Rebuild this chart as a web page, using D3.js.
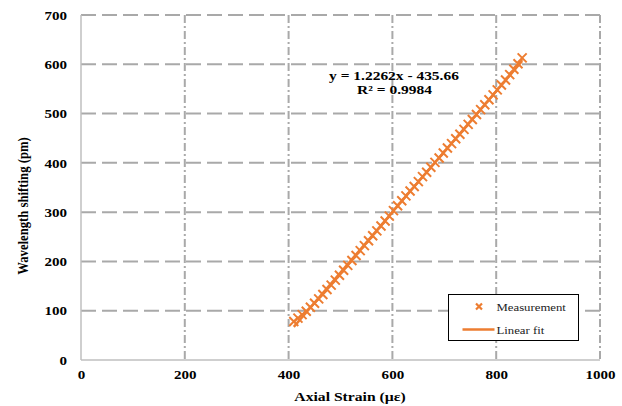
<!DOCTYPE html>
<html>
<head>
<meta charset="utf-8">
<script src="https://cdn.jsdelivr.net/npm/d3@7"></script>
<style>
  body { margin: 0; background: #fff; }
  svg text { font-family: "Liberation Serif", "Times New Roman", Times, serif; }
</style>
</head>
<body>
<div id="chart"></div>
<script>
// ---- data ----
const strain = [410, 418, 426, 434, 442, 450, 458, 466, 474, 482, 490, 498, 506, 514,
  522, 530, 538, 546, 554, 562, 570, 578, 586, 594, 602, 610, 618, 626, 634, 642,
  650, 658, 666, 674, 682, 690, 698, 706, 714, 722, 730, 738, 746, 754, 762, 770,
  778, 786, 794, 802, 810, 818, 826, 834, 842, 850]
const shift = [78, 85, 92, 99, 107, 115, 124, 133, 143, 152, 162, 172, 182, 192,
  202, 212, 222, 232, 242, 252, 262, 272, 282, 292, 303, 313, 323, 333, 343, 352,
  362, 372, 381, 391, 401, 410, 420, 430, 439, 449, 458, 468, 478, 488, 498, 508,
  518, 528, 538, 548, 558, 568, 579, 590, 601, 613]
const slope = 1.2262
const intercept = -435.66
const xTicks = [0, 200, 400, 600, 800, 1000]
const yTicks = [0, 100, 200, 300, 400, 500, 600, 700]

const W = 622, H = 406
const m = { left: 81, right: 22, top: 15, bottom: 46 }
const orange = "#ED7D31"
const gridColor = "#A9A9A9"
const serif = "'Liberation Serif', 'Times New Roman', Times, serif"
// the source picture is a bit stretched sideways, so the text is too
const sx = 1.16

const svg = d3.select("#chart").append("svg").attr("width", W).attr("height", H)

const x = d3.scaleLinear().domain([0, 1000]).range([m.left, W - m.right])
const y = d3.scaleLinear().domain([0, 700]).range([H - m.bottom, m.top])

// horizontal grid: long dashes
svg.append("g").selectAll("line")
  .data(yTicks.filter(d => d > 0))
  .join("line")
  .attr("x1", x(0)).attr("x2", x(1000))
  .attr("y1", d => y(d)).attr("y2", d => y(d))
  .attr("stroke", gridColor).attr("stroke-width", 2)
  .attr("stroke-dasharray", "15,6")

// vertical grid: dash-dot
svg.append("g").selectAll("line")
  .data(xTicks.filter(d => d > 0))
  .join("line")
  .attr("x1", d => x(d)).attr("x2", d => x(d))
  .attr("y1", y(700)).attr("y2", y(0))
  .attr("stroke", gridColor).attr("stroke-width", 2)
  .attr("stroke-dasharray", "8,3,2,3")

// axes lines
svg.append("line").attr("x1", x(0)).attr("x2", x(0)).attr("y1", y(700)).attr("y2", y(0))
  .attr("stroke", "#BFBFBF").attr("stroke-width", 1.5)
svg.append("line").attr("x1", x(0)).attr("x2", x(1000)).attr("y1", y(0)).attr("y2", y(0))
  .attr("stroke", "#BFBFBF").attr("stroke-width", 1.5)

// tick labels
const xAxis = svg.append("g").attr("transform", "translate(0," + (y(0) + 8) + ")")
  .call(d3.axisBottom(x).tickValues(xTicks).tickFormat(d3.format("d")).tickSize(0).tickPadding(0))
const yAxis = svg.append("g").attr("transform", "translate(" + (x(0) - 14) + ",0)")
  .call(d3.axisLeft(y).tickValues(yTicks).tickFormat(d3.format("d")).tickSize(0).tickPadding(0))
for (const ax of [xAxis, yAxis]) {
  ax.attr("font-family", null).attr("font-size", null)
  ax.select(".domain").remove()
  ax.selectAll("text")
    .style("font-family", serif)
    .attr("font-size", 13).attr("font-weight", "bold").attr("fill", "#000")
    .attr("transform", "scale(" + sx + ",1)")
}
xAxis.selectAll("text").attr("dy", "0.85em")

// axis titles
svg.append("text").attr("transform", "translate(350,401) scale(" + sx + ",1)")
  .attr("text-anchor", "middle").attr("font-size", 13.5).attr("font-weight", "bold")
  .text("Axial Strain (µε)")
svg.append("text")
  .attr("transform", "translate(28,206) rotate(-90) scale(1," + sx + ")")
  .attr("text-anchor", "middle").attr("font-size", 12.7).attr("font-weight", "bold")
  .text("Wavelength shifting (pm)")

// linear fit
const x0 = d3.min(strain), x1 = d3.max(strain)
svg.append("line")
  .attr("x1", x(x0)).attr("y1", y(slope * x0 + intercept))
  .attr("x2", x(x1)).attr("y2", y(slope * x1 + intercept))
  .attr("stroke", orange).attr("stroke-width", 2.5)

// measurement markers
const cross = "M-4.5,-4.5L4.5,4.5M-4.5,4.5L4.5,-4.5"
svg.append("g").selectAll("path")
  .data(strain.map((s, i) => [s, shift[i]]))
  .join("path")
  .attr("transform", d => "translate(" + x(d[0]) + "," + y(d[1]) + ")")
  .attr("d", cross)
  .attr("stroke", orange).attr("stroke-width", 2).attr("fill", "none")

// equation
svg.append("text").attr("transform", "translate(394,80) scale(1.19,1)")
  .attr("text-anchor", "middle")
  .attr("font-size", 13).attr("font-weight", "bold").text("y = 1.2262x - 435.66")
svg.append("text").attr("transform", "translate(394.5,94) scale(1.19,1)")
  .attr("text-anchor", "middle")
  .attr("font-size", 13).attr("font-weight", "bold").text("R² = 0.9984")

// legend
const lg = svg.append("g").attr("transform", "translate(448.5,294.5)")
lg.append("rect").attr("width", 130).attr("height", 46)
  .attr("fill", "#fff").attr("stroke", "#000").attr("stroke-width", 1)
lg.append("path").attr("transform", "translate(30.5,12)").attr("d", "M-3,-3L3,3M-3,3L3,-3")
  .attr("stroke", orange).attr("stroke-width", 2.2)
lg.append("text").attr("transform", "translate(48,16) scale(" + sx + ",1)")
  .attr("font-size", 11).attr("fill", "#222")
  .text("Measurement")
lg.append("line").attr("x1", 14).attr("x2", 46).attr("y1", 35).attr("y2", 35)
  .attr("stroke", orange).attr("stroke-width", 2.5)
lg.append("text").attr("transform", "translate(48,39) scale(" + sx + ",1)")
  .attr("font-size", 11).attr("fill", "#222")
  .text("Linear fit")
</script>
</body>
</html>
